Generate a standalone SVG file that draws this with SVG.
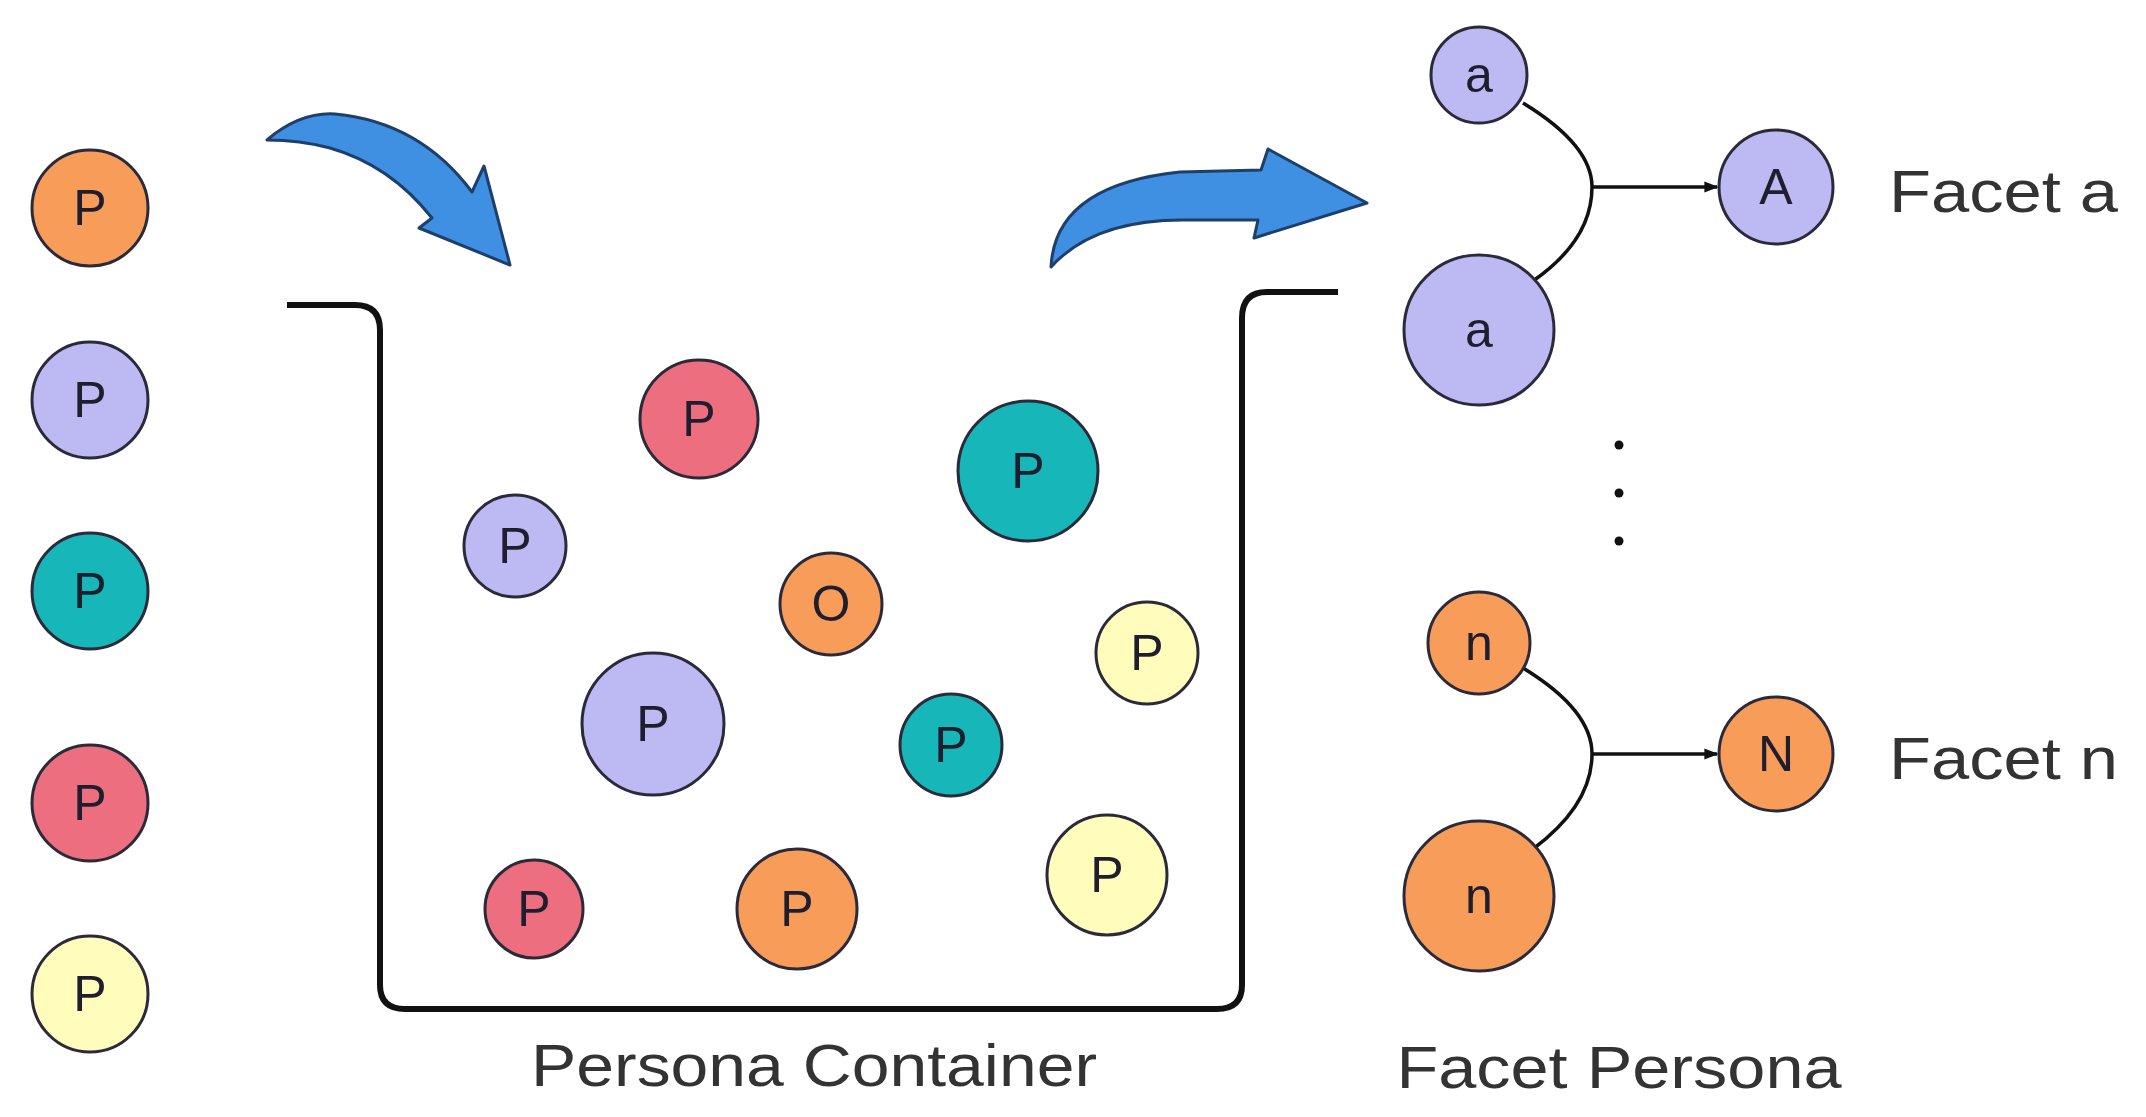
<svg xmlns="http://www.w3.org/2000/svg" width="2146" height="1117" viewBox="0 0 2146 1117">
<style>
.n circle{stroke:#2a2a3a;stroke-width:3}
.n text{font-family:"Liberation Sans",Arial,sans-serif;font-size:50px;fill:#1e1e2e;text-anchor:middle;dominant-baseline:central}
.or{fill:#F89C5A}.lv{fill:#BDB9F2}.tl{fill:#17B6B8}.pk{fill:#EC6E7F}.yl{fill:#FFFCBC}
.lbl{font-family:"Liberation Sans",Arial,sans-serif;fill:#333;font-size:60px}
.arr{fill:#3F8FE2;stroke:#1d3f6a;stroke-width:3;stroke-linejoin:round}
.c{fill:none;stroke:#111;stroke-width:3.5}
</style>
<defs><marker id="m" viewBox="0 0 10 10" refX="9" refY="5" markerWidth="4" markerHeight="4" orient="auto"><path d="M0,1 L10,5 L0,9 Z" fill="#111"/></marker></defs>
<rect width="2146" height="1117" fill="#fff"/>
<g id="l1" class="n"><circle class="or" cx="90" cy="208" r="58"/><text x="90" y="208">P</text></g>
<g id="l2" class="n"><circle class="lv" cx="90" cy="400" r="58"/><text x="90" y="400">P</text></g>
<g id="l3" class="n"><circle class="tl" cx="90" cy="591" r="58"/><text x="90" y="591">P</text></g>
<g id="l4" class="n"><circle class="pk" cx="90" cy="803" r="58"/><text x="90" y="803">P</text></g>
<g id="l5" class="n"><circle class="yl" cx="90" cy="994" r="58"/><text x="90" y="994">P</text></g>
<g id="arrow1"><path class="arr" d="M267,140 Q300,112 335,114 Q420,122 472,192 L484,166 L510,265 L419,228 L432,218 Q390,165 330,148 Q300,140 267,140 Z"/></g>
<g id="arrow2"><path class="arr" d="M1051,267 Q1055,185 1180,172 L1261,170 L1268,149 L1367,203 L1254,238 L1258,220 L1190,220 Q1095,218 1051,267 Z"/></g>
<g id="container"><path d="M287,305 H355 Q380,305 380,330 V985 Q380,1009 405,1009 H1217 Q1242,1009 1242,985 V318 Q1242,292 1267,292 H1338" fill="none" stroke="#111" stroke-width="6"/>
<text class="lbl" x="814" y="1086" text-anchor="middle" textLength="566" lengthAdjust="spacingAndGlyphs">Persona Container</text></g>
<g id="c1" class="n"><circle class="pk" cx="699" cy="419" r="59"/><text x="699" y="419">P</text></g>
<g id="c2" class="n"><circle class="tl" cx="1028" cy="471" r="70"/><text x="1028" y="471">P</text></g>
<g id="c3" class="n"><circle class="lv" cx="515" cy="546" r="51"/><text x="515" y="546">P</text></g>
<g id="c4" class="n"><circle class="or" cx="831" cy="604" r="51"/><text x="831" y="604">O</text></g>
<g id="c5" class="n"><circle class="yl" cx="1147" cy="653" r="51"/><text x="1147" y="653">P</text></g>
<g id="c6" class="n"><circle class="lv" cx="653" cy="724" r="71"/><text x="653" y="724">P</text></g>
<g id="c7" class="n"><circle class="tl" cx="951" cy="745" r="51"/><text x="951" y="745">P</text></g>
<g id="c8" class="n"><circle class="pk" cx="534" cy="909" r="49"/><text x="534" y="909">P</text></g>
<g id="c9" class="n"><circle class="or" cx="797" cy="909" r="60"/><text x="797" y="909">P</text></g>
<g id="c10" class="n"><circle class="yl" cx="1107" cy="875" r="60"/><text x="1107" y="875">P</text></g>
<g id="connectors">
<path class="c" d="M1523,103 Q1592,145 1592,187 Q1592,240 1533,281"/>
<path class="c" d="M1592,187 H1717" marker-end="url(#m)"/>
<path class="c" d="M1523,668 Q1592,710 1592,754 Q1592,805 1533,849"/>
<path class="c" d="M1592,754 H1717" marker-end="url(#m)"/>
</g>
<g id="a1" class="n"><circle class="lv" cx="1479" cy="75" r="48"/><text x="1479" y="75">a</text></g>
<g id="a2" class="n"><circle class="lv" cx="1479" cy="330" r="75"/><text x="1479" y="330">a</text></g>
<g id="A" class="n"><circle class="lv" cx="1776" cy="187" r="57"/><text x="1776" y="187">A</text></g>
<g id="n1" class="n"><circle class="or" cx="1479" cy="643" r="51"/><text x="1479" y="643">n</text></g>
<g id="n2" class="n"><circle class="or" cx="1479" cy="896" r="75"/><text x="1479" y="896">n</text></g>
<g id="N" class="n"><circle class="or" cx="1776" cy="754" r="57"/><text x="1776" y="754">N</text></g>
<g id="dots" fill="#111"><circle cx="1619" cy="445" r="4.5"/><circle cx="1619" cy="493" r="4.5"/><circle cx="1619" cy="541" r="4.5"/></g>
<text class="lbl" x="1889" y="212" textLength="229" lengthAdjust="spacingAndGlyphs">Facet a</text>
<text class="lbl" x="1889" y="779" textLength="229" lengthAdjust="spacingAndGlyphs">Facet n</text>
<text class="lbl" x="1619" y="1088" text-anchor="middle" textLength="445" lengthAdjust="spacingAndGlyphs">Facet Persona</text>
</svg>
